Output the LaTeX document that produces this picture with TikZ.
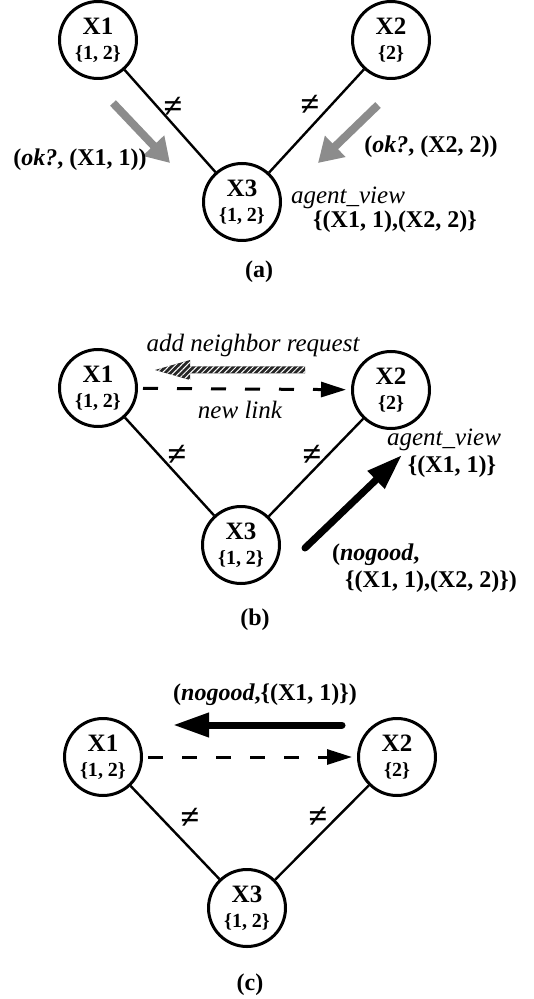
\documentclass[tikz,border=0pt]{standalone}
\usepackage{fontspec}
\setmainfont{Liberation Serif}
\usepackage{tikz}
\usetikzlibrary{arrows.meta}
\usetikzlibrary{positioning,calc}
\usetikzlibrary{patterns.meta}

\newcommand{\dom}[1]{{\fontsize{10}{12.5}\selectfont\{#1\}}}

\begin{document}
\begin{tikzpicture}[x=0.5pt,y=-0.5pt]
  \tikzset{
    vertex/.style={
      draw,
      circle,
      fill=white,
      minimum size=38.5pt,
      inner sep=0pt,
      line width=1.5pt,
      align=center,
      font=\fontsize{12.5}{12.5}\selectfont\bfseries
    },
    edge/.style={
      draw,
      line width=1.2pt
    },
    neq/.style={font=\fontsize{17}{17}\selectfont\bfseries},
    msg/.style={font=\fontsize{12}{12}\selectfont\bfseries},
    view/.style={font=\fontsize{12.5}{12.5}\selectfont\itshape},
    caption/.style={font=\fontsize{12}{12}\selectfont\bfseries},
    okarrow/.style={
      draw=black!45,
      line width=4pt,
      -{Triangle[length=12pt,width=14pt]}
    },
    newlink/.style={
      draw,
      line width=1.5pt,
      dash pattern=on 7.5pt off 9.5pt,
      shorten <=2.5pt,
      shorten >=2.5pt,
      -{Triangle[length=12.5pt,width=7.5pt]}
    },
    nogoodarrow/.style={
      draw,
      line width=3.5pt,
      line cap=round,
      -{Triangle[length=18pt,width=11.5pt]}
    },
    hatch/.style={
      fill=black!85,
      postaction={pattern={Lines[angle=45,distance=2pt,line width=0.5pt]}, pattern color=white}
    }
  }
  \useasboundingbox (0,0) rectangle (534,999);

  % Panel (a)
  \node[vertex] (a1) at (98,40) {X1\\\dom{1, 2}};
  \node[vertex] (a2) at (391,40) {X2\\\dom{2}};
  \node[vertex] (a3) at (242,202) {X3\\\dom{1, 2}};

  % Panel (b)
  \node[vertex] (b1) at (98,388) {X1\\\dom{1, 2}};
  \node[vertex] (b2) at (391,390) {X2\\\dom{2}};
  \node[vertex] (b3) at (241,545) {X3\\\dom{1, 2}};

  % Panel (c)
  \node[vertex] (c1) at (103,757) {X1\\\dom{1, 2}};
  \node[vertex] (c2) at (397,757) {X2\\\dom{2}};
  \node[vertex] (c3) at (247,908) {X3\\\dom{1, 2}};

  % Constraint edges
  \foreach \p in {a,b,c} {
    \draw[edge] (\p1) -- (\p3);
    \draw[edge] (\p2) -- (\p3);
  }
  \node[neq] (na1) at (173,107) {≠};
  \node[neq] (na2) at (310,105) {≠};
  \node[neq] (nb1) at (177,455) {≠};
  \node[neq] (nb2) at (312,455) {≠};
  \node[neq] (nc1) at (190,818) {≠};
  \node[neq] (nc2) at (318,817) {≠};

  % ok? messages
  \coordinate (oka1s) at (113,103);
  \coordinate (oka1t) at (170,163);
  \coordinate (oka2s) at (378,105);
  \coordinate (oka2t) at (318,163);
  \draw[okarrow] (oka1s) -- (oka1t);
  \draw[okarrow] (oka2s) -- (oka2t);
  \node[msg] (ok1) at (80,160) {(\textit{ok?}, (X1, 1))};
  \node[msg] (ok2) at (431,147) {(\textit{ok?}, (X2, 2))};
  \node[view] (viewa) at (348,198) {agent\_view};
  \node[msg] (vala) at (395,222) {\{(X1, 1),(X2, 2)\}};
  \node[caption] (capa) at (259,272) {(a)};

  % new link and request
  \draw[newlink] (b1) -- (b2);
  \coordinate (reqs) at (305,370);
  \coordinate (reqt) at (155,370);
  \path[hatch] (reqt) -- ($(reqt)+(35,-10)$) -- ($(reqt)+(35,-3.5)$)
    -- ($(reqs)+(0,-3.5)$) -- ($(reqs)+(0,3.5)$) -- ($(reqt)+(35,3.5)$)
    -- ($(reqt)+(35,10)$) -- cycle;
  \node[view] (req) at (253,345) {add neighbor request};
  \node[view] (link) at (240,410) {new link};

  % nogood from X3
  \coordinate (ngbs) at (305,548);
  \coordinate (ngbt) at (402,455);
  \draw[nogoodarrow] (ngbs) -- (ngbt);
  \node[view] (viewb) at (444,440) {agent\_view};
  \node[msg] (valb) at (452,467) {\{(X1, 1)\}};
  \node[msg, anchor=west] (ngb1) at (325,555) {(\textit{nogood},};
  \node[msg] (ngb2) at (431,582) {\{(X1, 1),(X2, 2)\})};
  \node[caption] (capb) at (255,620) {(b)};

  % nogood from X2
  \draw[newlink] (c1) -- (c2);
  \coordinate (ngcs) at (342,725);
  \coordinate (ngct) at (173,725);
  \draw[nogoodarrow] (ngcs) -- (ngct);
  \node[msg] (ngc) at (265,695) {(\textit{nogood},\{(X1, 1)\})};
  \node[caption] (capc) at (250,985) {(c)};
\end{tikzpicture}
\end{document}
